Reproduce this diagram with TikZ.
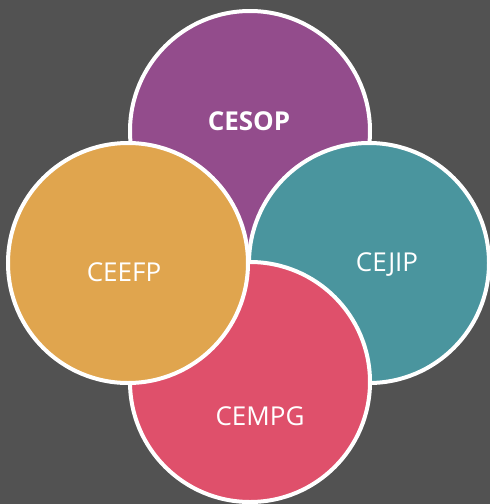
\documentclass[tikz,border=0pt]{standalone}
\usepackage{fontspec}
\setmainfont{Open Sans}
\definecolor{bgc}{HTML}{525252}
\definecolor{cpurple}{HTML}{934C8C}
\definecolor{corange}{HTML}{E0A54E}
\definecolor{cteal}{HTML}{4A959E}
\definecolor{cred}{HTML}{DF506B}
\begin{document}
\begin{tikzpicture}[x=1pt,y=-1pt,
  ring/.style={circle, draw=white, line width=4pt, minimum size=240pt, inner sep=0pt},
  lbl/.style={text=white, font=\fontsize{26}{30}\selectfont, inner sep=0pt}]
\fill[bgc] (0,0) rectangle (490,504);
\useasboundingbox (0,0) rectangle (490,504);
\node[ring, fill=cpurple] (purple) at (250,131) {};
\node[ring, fill=cteal] (teal) at (369,263) {};
\node[ring, fill=cred] (red) at (250,382) {};
\node[ring, fill=corange] (orange) at (128,263) {};
\node[lbl, font=\fontsize{26}{30}\selectfont\bfseries] (t1) at (249,121) {CESOP};
\node[lbl] (t2) at (124,272) {CEEFP};
\node[lbl] (t3) at (387,265) {CEJIP};
\node[lbl] (t4) at (260,416) {CEMPG};
\end{tikzpicture}
\end{document}
